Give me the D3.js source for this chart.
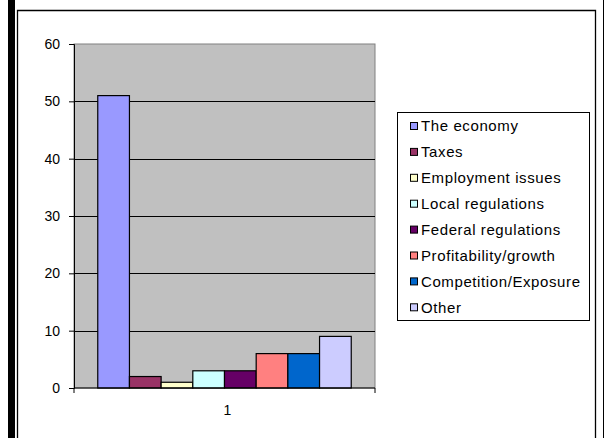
<!DOCTYPE html>
<meta charset="utf-8">
<script src="https://d3js.org/d3.v7.min.js"></script>
<style type="text/css">
  body { margin: 0; background: #fff; }
  text { font-family: "Liberation Sans", Arial, sans-serif; fill: #000; }
</style>
<body>
</body>
<script>

// chart values
var categories = ["1"];
var seriesNames = ["The economy", "Taxes", "Employment issues", "Local regulations",
  "Federal regulations", "Profitability/growth", "Competition/Exposure", "Other"];
var seriesValues = [51, 2, 1, 3, 3, 6, 6, 9];
var seriesColors = ["#9999FF", "#993366", "#FFFFCC", "#CCFFFF", "#660066", "#FF8080", "#0066CC", "#CCCCFF"];
var yTicks = [0, 10, 20, 30, 40, 50, 60];

var width = 605, height = 438;
var plot = {left: 74, right: 375, top: 44, bottom: 388};

var svg = d3.select("body").append("svg")
  .attr("width", width)
  .attr("height", height);

// outer frame bits
svg.append("rect").attr("x", 8).attr("y", 0).attr("width", 7).attr("height", height).style("fill", "#000");
svg.append("line").attr("x1", 603.5).attr("x2", 603.5).attr("y1", 0).attr("y2", height)
  .style("stroke", "#000").style("stroke-width", 1);
svg.append("path")
  .attr("d", "M17.5," + height + "V10.5H595.5V" + height)
  .style("fill", "none").style("stroke", "#000").style("stroke-width", 1.3);

var yScale = d3.scaleLinear()
  .domain([0, 60])
  .range([plot.bottom, plot.top]);

var x0 = d3.scaleBand()
  .domain(categories)
  .range([plot.left, plot.right]);

var x1 = d3.scaleBand()
  .domain(seriesNames)
  .range([0, x0.bandwidth()])
  .paddingInner(0)
  .paddingOuter(0.75);

// plot area
svg.append("rect")
  .attr("x", plot.left).attr("y", plot.top)
  .attr("width", plot.right - plot.left).attr("height", plot.bottom - plot.top)
  .style("fill", "#C0C0C0").style("stroke", "#808080").style("stroke-width", 1);

// gridlines
svg.selectAll(".grid")
  .data(yTicks.filter(d => d > 0 && d < 60))
  .enter().append("line")
  .attr("class", "grid")
  .attr("x1", plot.left).attr("x2", plot.right)
  .attr("y1", d => Math.round(yScale(d)) + 0.5)
  .attr("y2", d => Math.round(yScale(d)) + 0.5)
  .style("stroke", "#000").style("stroke-width", 1);

// bars
svg.selectAll(".bar")
  .data(seriesValues)
  .enter().append("rect")
  .attr("class", "bar")
  .attr("x", (d, i) => x0(categories[0]) + x1(seriesNames[i]))
  .attr("y", d => yScale(d))
  .attr("width", x1.bandwidth())
  .attr("height", d => plot.bottom - yScale(d))
  .style("fill", (d, i) => seriesColors[i])
  .style("stroke", "#000")
  .style("stroke-width", 1.2);

// axes
var yAxis = d3.axisLeft(yScale).tickValues(yTicks).tickSize(5).tickPadding(9);
var yAxisGroup = svg.append("g")
  .attr("class", "y axis")
  .attr("transform", "translate(" + plot.left + ",0)")
  .call(yAxis)
  .attr("font-size", null)
  .attr("font-family", null);
yAxisGroup.selectAll("text").style("font-size", "14px");
yAxisGroup.selectAll("line, path").style("stroke", "#000");

var xAxisGroup = svg.append("g")
  .attr("class", "x axis")
  .attr("transform", "translate(0," + plot.bottom + ")");
xAxisGroup.append("line")
  .attr("x1", plot.left).attr("x2", plot.right)
  .style("stroke", "#000");
xAxisGroup.selectAll(".xtick")
  .data([plot.left, plot.right])
  .enter().append("line")
  .attr("x1", d => d).attr("x2", d => d)
  .attr("y1", 0).attr("y2", 5)
  .style("stroke", "#000");
xAxisGroup.selectAll(".xlabel")
  .data(categories)
  .enter().append("text")
  .attr("x", d => x0(d) + x0.bandwidth() / 2 + 3)
  .attr("y", 27)
  .style("text-anchor", "middle")
  .style("font-size", "14px")
  .text(d => d);

// legend
var legend = svg.append("g").attr("transform", "translate(397.5,112.5)");
legend.append("rect")
  .attr("width", 192).attr("height", 208)
  .style("fill", "#fff").style("stroke", "#000").style("stroke-width", 1);

var rows = legend.selectAll(".item")
  .data(seriesNames)
  .enter().append("g")
  .attr("class", "item")
  .attr("transform", (d, i) => "translate(0," + (13.5 + i * 25.9) + ")");
rows.append("rect")
  .attr("x", 13).attr("y", -3.5)
  .attr("width", 7).attr("height", 7)
  .style("fill", (d, i) => seriesColors[i])
  .style("stroke", "#000").style("stroke-width", 1);
rows.append("text")
  .attr("x", 23.5)
  .attr("dy", "0.35em")
  .style("font-size", "15px")
  .style("letter-spacing", "0.6px")
  .text(d => d);

</script>
